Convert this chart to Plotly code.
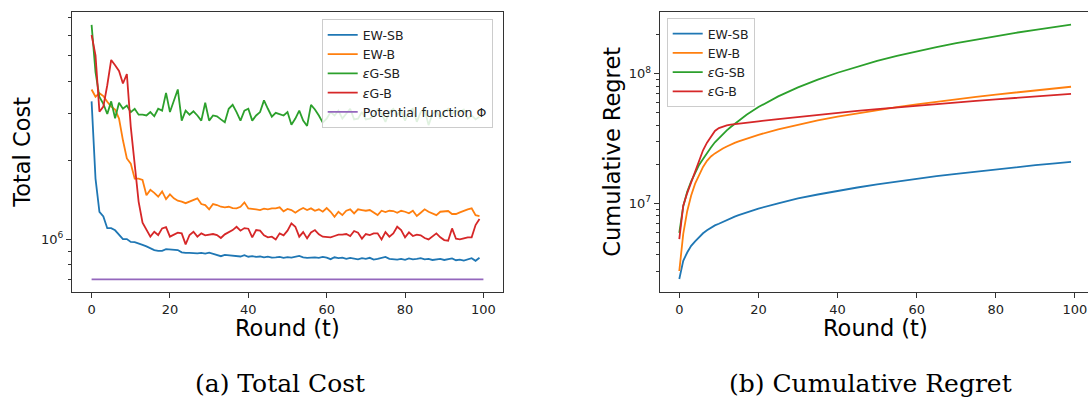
import plotly.graph_objects as go

# ---------------- data (values in millions) ----------------
rounds = list(range(100))
rounds_phi = list(range(101))

cost_ew_sb = [3.35, 1.70, 1.27, 1.22, 1.10, 1.10, 1.08, 1.04, 1.00, 1.00,
              0.975, 0.973, 0.958, 0.950, 0.938, 0.922, 0.908, 0.902, 0.902, 0.915,
              0.912, 0.905, 0.908, 0.890, 0.885, 0.886, 0.884, 0.882, 0.886, 0.880,
              0.888, 0.878, 0.872, 0.860, 0.870, 0.868, 0.865, 0.860, 0.858, 0.868,
              0.856, 0.860, 0.855, 0.858, 0.852, 0.857, 0.850, 0.852, 0.855, 0.848,
              0.853, 0.850, 0.858, 0.862, 0.852, 0.848, 0.850, 0.852, 0.848, 0.855,
              0.850, 0.838, 0.852, 0.846, 0.850, 0.840, 0.848, 0.843, 0.836, 0.845,
              0.840, 0.848, 0.835, 0.840, 0.846, 0.855, 0.840, 0.838, 0.835, 0.840,
              0.833, 0.843, 0.836, 0.840, 0.845, 0.836, 0.840, 0.832, 0.838, 0.840,
              0.832, 0.837, 0.843, 0.830, 0.835, 0.827, 0.838, 0.845, 0.826, 0.848]

cost_ew_b = [3.72, 3.49, 3.60, 3.51, 3.34, 3.20, 3.12, 2.88, 2.38, 2.03,
             1.94, 1.70, 1.70, 1.68, 1.47, 1.54, 1.50, 1.45, 1.52, 1.42,
             1.48, 1.43, 1.40, 1.39, 1.37, 1.388, 1.408, 1.43, 1.36, 1.348,
             1.298, 1.36, 1.348, 1.328, 1.321, 1.328, 1.313, 1.309, 1.328, 1.38,
             1.309, 1.306, 1.298, 1.29, 1.306, 1.298, 1.309, 1.309, 1.321, 1.275,
             1.302, 1.29, 1.26, 1.29, 1.313, 1.29, 1.309, 1.282, 1.298, 1.271,
             1.313, 1.271, 1.216, 1.271, 1.234, 1.282, 1.298, 1.253, 1.298, 1.29,
             1.282, 1.29, 1.26, 1.234, 1.282, 1.267, 1.282, 1.279, 1.26, 1.282,
             1.271, 1.253, 1.282, 1.224, 1.26, 1.298, 1.271, 1.253, 1.234, 1.271,
             1.279, 1.279, 1.246, 1.246, 1.264, 1.282, 1.298, 1.309, 1.234, 1.224]

cost_eg_sb = [6.56, 4.33, 3.48, 3.28, 3.00, 3.35, 2.89, 3.31, 3.14, 3.23,
              3.05, 3.14, 2.98, 2.98, 2.96, 3.05, 2.94, 3.14, 3.09, 3.61,
              3.05, 3.38, 3.72, 2.83, 3.09, 2.98, 3.07, 2.96, 2.83, 3.31,
              2.83, 2.96, 2.94, 2.86, 2.79, 3.14, 3.25, 3.05, 2.83, 3.09,
              3.14, 2.83, 2.96, 3.05, 3.38, 3.14, 2.93, 3.03, 3.00, 2.96,
              3.05, 2.73, 2.88, 3.09, 2.83, 2.70, 3.25, 3.12, 2.96, 2.78,
              2.88, 3.05, 2.96, 3.09, 2.88, 3.00, 3.14, 2.86, 2.88, 3.05,
              2.86, 2.88, 2.96, 3.12, 3.00, 2.80, 3.05, 3.14, 2.98, 3.09,
              2.83, 3.07, 3.14, 2.80, 3.05, 3.12, 2.72, 3.00, 3.09, 2.88,
              3.05, 3.14, 3.00, 3.09, 3.05, 3.12, 2.88, 2.96, 2.86, 2.93]

cost_eg_b = [6.00, 5.02, 3.06, 3.20, 3.86, 4.82, 4.60, 4.38, 3.92, 4.26,
             2.68, 1.89, 1.39, 1.154, 1.088, 1.021, 1.066, 1.036, 1.098, 1.11,
             1.021, 1.036, 1.057, 1.051, 0.954, 1.036, 1.066, 1.021, 1.051, 1.033,
             1.039, 1.045, 1.036, 1.009, 1.042, 1.060, 1.082, 1.114, 1.076, 1.101,
             1.095, 1.015, 1.082, 1.076, 1.033, 1.015, 1.021, 0.997, 1.051, 1.033,
             1.076, 1.147, 1.114, 1.021, 1.063, 1.006, 1.060, 1.082, 1.042, 1.021,
             1.015, 1.015, 1.027, 1.039, 1.039, 1.045, 1.027, 1.073, 1.057, 1.003,
             1.045, 1.036, 1.051, 1.051, 0.997, 1.063, 1.021, 1.051, 1.114, 1.082,
             1.015, 1.060, 1.027, 1.039, 1.033, 1.009, 0.997, 1.021, 1.051, 1.015,
             0.991, 0.985, 1.098, 1.003, 0.997, 1.006, 1.015, 1.015, 1.131, 1.192]

cost_potential = [0.702] * 101

# cumulative regret, read at selected rounds
rounds_r = [0, 1, 2, 3, 4, 5, 6, 7, 8, 9, 10, 11, 12, 13, 14, 15, 17, 20, 25, 30,
            35, 40, 45, 50, 55, 60, 65, 70, 75, 80, 85, 90, 95, 99]
regret_ew_sb = [2.6, 3.6, 4.17, 4.69, 5.09, 5.49, 5.87, 6.2, 6.5, 6.75, 6.95, 7.2,
                7.42, 7.65, 7.9, 8.1, 8.5, 9.1, 10.0, 10.9, 11.7, 12.5, 13.25, 14.0,
                14.75, 15.5, 16.2, 16.9, 17.6, 18.3, 19.0, 19.7, 20.35, 20.9]
regret_ew_b = [3.0, 5.8, 8.7, 11.5, 14.2, 16.7, 19.1, 21.3, 23.0, 24.3, 25.5, 26.5,
               27.5, 28.5, 29.3, 30.1, 31.6, 33.8, 37.3, 40.6, 43.7, 46.7, 49.6, 52.5,
               55.4, 58.2, 61.0, 63.8, 66.5, 69.2, 71.9, 74.6, 77.3, 79.5]
regret_eg_sb = [5.9, 9.5, 12.3, 14.8, 17.1, 19.8, 22.0, 24.6, 27.0, 29.6, 31.9, 34.3,
                36.6, 38.9, 41.2, 43.6, 48.3, 55.4, 67.0, 78.7, 90.4, 102.0, 114.0,
                126.0, 137.5, 149.0, 161.0, 172.5, 184.0, 196.0, 207.5, 219.0, 231.0, 240.0]
regret_eg_b = [5.3, 9.6, 12.0, 14.5, 17.7, 21.8, 25.7, 29.4, 32.6, 36.2, 38.1, 39.3,
               40.0, 40.5, 40.9, 41.2, 41.9, 43.0, 44.7, 46.5, 48.2, 50.0, 51.7, 53.4,
               55.1, 56.8, 58.5, 60.2, 61.9, 63.6, 65.3, 67.0, 68.7, 70.0]

UNIT = 1e6
x_ticks = [0, 20, 40, 60, 80, 100]
names = ["EW-SB", "EW-B", "<i>ε</i>G-SB", "<i>ε</i>G-B"]
phi_name = "Potential function Φ"
colors = ["#1f77b4", "#ff7f0e", "#2ca02c", "#d62728"]
phi_color = "#9467bd"

# ---------------- figure ----------------
W, H = 1088, 401
fig = go.Figure()

def m(v):
    return [a * UNIT for a in v]

for nm, col, ys in zip(names, colors, [cost_ew_sb, cost_ew_b, cost_eg_sb, cost_eg_b]):
    fig.add_trace(go.Scatter(x=rounds, y=m(ys), mode="lines", name=nm,
                             line=dict(color=col, width=1.8),
                             xaxis="x", yaxis="y", legend="legend"))
fig.add_trace(go.Scatter(x=rounds_phi, y=m(cost_potential), mode="lines", name=phi_name,
                         line=dict(color=phi_color, width=1.8),
                         xaxis="x", yaxis="y", legend="legend"))

for nm, col, ys in zip(names, colors, [regret_ew_sb, regret_ew_b, regret_eg_sb, regret_eg_b]):
    fig.add_trace(go.Scatter(x=rounds_r, y=m(ys), mode="lines", name=nm,
                             line=dict(color=col, width=1.8),
                             xaxis="x2", yaxis="y2", legend="legend2"))

font = "DejaVu Sans"
axcol = "#333333"
tickfont = dict(family=font, size=13, color="#222222")

ydom = [1 - 292 / H, 1 - 12 / H]

common_x = dict(tickvals=x_ticks, ticks="outside", ticklen=5, tickwidth=1, tickcolor=axcol,
                showline=True, linecolor=axcol, linewidth=1, showgrid=False, zeroline=False,
                tickfont=tickfont, automargin=False)
common_y = dict(type="log", ticks="outside", ticklen=5, tickwidth=1, tickcolor=axcol,
                showline=True, linecolor=axcol, linewidth=1, showgrid=False, zeroline=False,
                tickfont=tickfont, automargin=False)

minor_left = [7e5, 8e5, 9e5, 2e6, 3e6, 4e6, 5e6, 6e6, 7e6]
minor_right = [3e6, 4e6, 5e6, 6e6, 7e6, 8e6, 9e6, 2e7, 3e7, 4e7, 5e7, 6e7, 7e7, 8e7, 9e7, 2e8]

legend_common = dict(xanchor="left", yanchor="top", bgcolor="rgba(255,255,255,0.85)",
                     bordercolor="#cccccc", borderwidth=1,
                     font=dict(family=font, size=12.5, color="#222222"),
                     tracegroupgap=0, itemwidth=30)

fig.update_layout(
    width=W, height=H, margin=dict(l=0, r=0, t=0, b=0, autoexpand=False),
    paper_bgcolor="white", plot_bgcolor="white",
    xaxis=dict(domain=[72 / W, 503 / W], range=[-5, 105], anchor="y", mirror=True, **common_x),
    yaxis=dict(domain=ydom, range=[5.798, 6.866], anchor="x", mirror=True,
               tickvals=[1e6], ticktext=["10<sup>6</sup>"],
               minor=dict(tickvals=minor_left, ticks="outside", ticklen=3, tickcolor=axcol),
               **common_y),
    xaxis2=dict(domain=[659.7 / W, 1.0], range=[-4.95, 103.29], anchor="y2", mirror=True, **common_x),
    yaxis2=dict(domain=ydom, range=[6.315, 8.478], anchor="x2", mirror=False,
                tickvals=[1e7, 1e8], ticktext=["10<sup>7</sup>", "10<sup>8</sup>"],
                minor=dict(tickvals=minor_right, ticks="outside", ticklen=3, tickcolor=axcol),
                **common_y),
    legend=dict(x=321.7 / W, y=1 - 19.3 / H, **legend_common),
    legend2=dict(x=666.7 / W, y=1 - 18 / H, **legend_common),
)

label_font = dict(family=font, size=22.5, color="black")
cap_font = dict(family="DejaVu Serif", size=25, color="black")
ann = [
    dict(text="Total Cost", x=21.7 / W, y=1 - 152 / H, textangle=-90, font=label_font),
    dict(text="Cumulative Regret", x=611.7 / W, y=1 - 152 / H, textangle=-90, font=label_font),
    dict(text="Round (t)", x=287.5 / W, y=1 - 328 / H, font=label_font),
    dict(text="Round (t)", x=875 / W, y=1 - 328 / H, font=label_font),
    dict(text="(a) Total Cost", x=280 / W, y=1 - 383 / H, font=cap_font),
    dict(text="(b) Cumulative Regret", x=870 / W, y=1 - 383 / H, font=cap_font),
]
for a in ann:
    fig.add_annotation(xref="paper", yref="paper", showarrow=False,
                       xanchor="center", yanchor="middle", **a)

fig.write_html("out.html",
               config={"displayModeBar": False},
               post_script="document.body.style.margin='0';"
                           "document.body.style.overflow='hidden';")
